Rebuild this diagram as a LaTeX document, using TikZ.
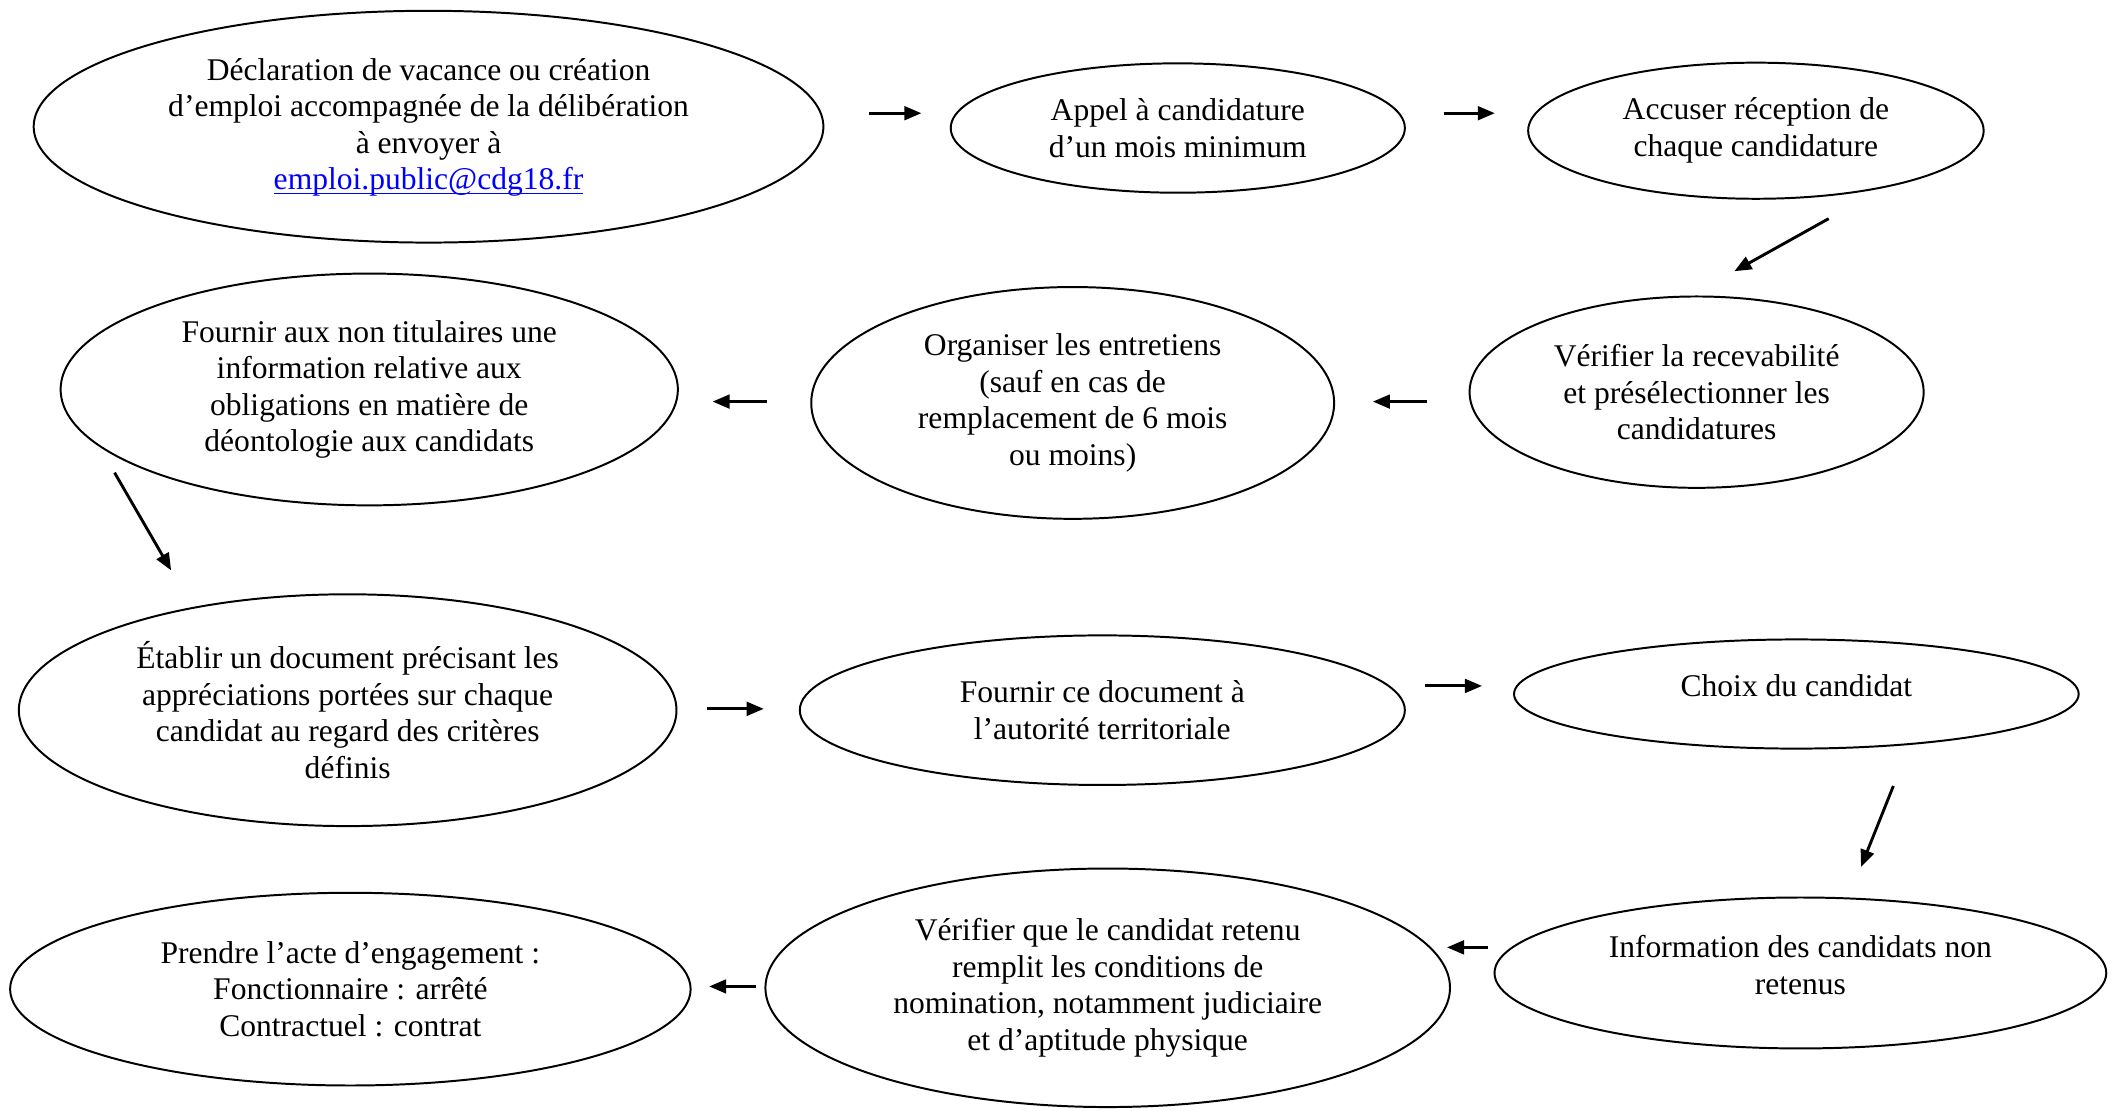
\documentclass[tikz,border=0pt]{standalone}
\usepackage{fontspec}
\setmainfont{Liberation Serif}
\usetikzlibrary{arrows.meta,shapes.geometric}
\definecolor{link}{HTML}{0000FF}
\newcommand{\pxu}{0.018cm}

\begin{document}
\begin{tikzpicture}[x=0.018cm,y=-0.018cm,>={Triangle[length=6.5pt,width=5.2pt]},
  oval/.style args={#1x#2}{ellipse,draw,line width=.75pt,inner sep=0pt,align=center,
    minimum width=#1*\pxu,minimum height=#2*\pxu,font=\fontsize{12}{13.9}\selectfont},
  flow/.style={->,line width=1.1pt}]
  \useasboundingbox (0,0) rectangle (1568,824);

  \node[oval=586x172] (decl) at (318,94)
    {Déclaration de vacance ou création\\d’emploi accompagnée de la délibération\\à envoyer à\\
     \textcolor{link}{\underline{\smash{emploi.public@cdg18.fr}}}};
  \node[oval=337x96] (appel) at (874,95) {Appel à candidature\\d’un mois minimum};
  \node[oval=338x101] (accus) at (1303,97) {Accuser réception de\\chaque candidature\\[-11pt]\mbox{}};

  \node[oval=458x172] (info) at (274,289)
    {Fournir aux non titulaires une\\information relative aux\\obligations en matière de\\déontologie aux candidats};
  \node[oval=388x172] (entr) at (796,299)
    {Organiser les entretiens\\(sauf en cas de\\remplacement de 6 mois\\ou moins)};
  \node[oval=337x142] (recev) at (1259,291)
    {Vérifier la recevabilité\\et présélectionner les\\candidatures};

  \node[oval=488x172] (doc) at (258,527)
    {Établir un document précisant les\\appréciations portées sur chaque\\candidat au regard des critères\\définis};
  \node[oval=449x111] (fourn) at (818,527) {Fournir ce document à\\l’autorité territoriale};
  \node[oval=419x81] (choix) at (1333,515) {Choix du candidat\\[-7.8pt]\mbox{}};

  \node[oval=505x143] (acte) at (260,734)
    {Prendre l’acte d’engagement :\\Fonctionnaire : arrêté\\Contractuel : contrat};
  \node[oval=508x177] (verif) at (822,733)
    {Vérifier que le candidat retenu\\remplit les conditions de\\nomination, notamment judiciaire\\et d’aptitude physique};
  \node[oval=454x112] (nonret) at (1336,722) {Information des candidats non\\retenus\\[-7.8pt]\mbox{}};

  \draw[flow] ([shift={(33,-10)}]decl.east) -- ([shift={(-21,-11)}]appel.west);
  \draw[flow] ([shift={(28,-11)}]appel.east) -- ([shift={(-24,-13)}]accus.west);
  \draw[flow] ([shift={(54,14)}]accus.south) -- ([shift={(28,-18)}]recev.north);
  \draw[flow] ([shift={(-31,7)}]recev.west) -- ([shift={(28,-1)}]entr.east);
  \draw[flow] ([shift={(-32,-1)}]entr.west) -- ([shift={(25,9)}]info.east);
  \draw[flow] ([shift={(-189,-25)}]info.south) -- ([shift={(-131,-17)}]doc.north);
  \draw[flow] ([shift={(22,-1)}]doc.east) -- ([shift={(-26,-1)}]fourn.west);
  \draw[flow] ([shift={(14,-18)}]fourn.east) -- ([shift={(-23,-6)}]choix.west);
  \draw[flow] ([shift={(72,27)}]choix.south) -- ([shift={(45,-22)}]nonret.north);
  \draw[flow] ([shift={(-4,-19)}]nonret.west) -- ([shift={(-3,-30)}]verif.east);
  \draw[flow] ([shift={(-6,-1)}]verif.west) -- ([shift={(13,-2)}]acte.east);
\end{tikzpicture}
\end{document}
